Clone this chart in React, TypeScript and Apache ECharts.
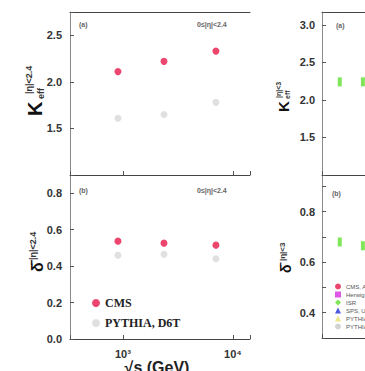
import React, { useEffect, useRef } from "react";
import * as echarts from "echarts";

// ---- data ----
const energies = [900, 2360, 7000]; // sqrt(s) in GeV
const cmsK = [2.11, 2.22, 2.33];
const pythiaK = [1.61, 1.65, 1.78];
const cmsDelta = [0.537, 0.526, 0.515];
const pythiaDelta = [0.46, 0.465, 0.44];

const isrEnergies = [31, 63];
const isrK = [2.24, 2.24];
const isrDelta = [0.68, 0.665];

const leftKTicks = [1.5, 2.0, 2.5];
const leftDeltaTicks = [0.0, 0.2, 0.4, 0.6, 0.8];
const rightKTicks = [1.5, 2.0, 2.5, 3.0];
const rightDeltaTicks = [0.4, 0.6, 0.8];
const xTickValues = [1000, 10000];
const xTickLabels = ["10³", "10⁴"];

const leftLegend = ["CMS", "PYTHIA, D6T"];
const rightLegend = ["CMS, ALICE", "Herwig", "ISR", "SPS, UA5", "PYTHIA, Z2", "PYTHIA 8"];
const rightLegendColors = ["#e8184a", "#d42ee0", "#5fe030", "#2230d8", "#e8e070", "#c8c8c8"];
const rightLegendSymbols = ["circle", "rect", "diamond", "triangle", "triangle", "circle"];

const RED = "#e8184a";
const GREY = "#d8d8d8";
const AXIS = "#555";
const LABEL_FONT = "Liberation Sans";

function yFmt(ticks: number[]) {
  return (v: number) => (ticks.some((t) => Math.abs(t - v) < 1e-6) ? v.toFixed(1) : "");
}
function xFmt(v: number) {
  const i = xTickValues.findIndex((t) => Math.abs(t - v) / t < 1e-6);
  return i >= 0 ? xTickLabels[i] : "";
}

function yAxis(grid: number, min: number, max: number, interval: number, ticks: number[], margin: number) {
  return {
    type: "value",
    gridIndex: grid,
    min,
    max,
    interval,
    splitLine: { show: false },
    axisLine: { show: true, lineStyle: { color: "#8a8a8a", width: 1 } },
    axisTick: { show: true, inside: true, length: 4, lineStyle: { color: AXIS } },
    axisLabel: {
      formatter: yFmt(ticks),
      margin,
      color: "#333",
      fontFamily: LABEL_FONT,
      fontWeight: "bold",
      fontSize: 11,
    },
  };
}

function xAxis(grid: number, min: number, max: number, showLabel: boolean, position = "bottom", ticks = true) {
  return {
    type: "log",
    gridIndex: grid,
    position,
    min,
    max,
    logBase: 10,
    splitLine: { show: false },
    axisLine: { show: true, onZero: false, lineStyle: { color: "#444", width: 1 } },
    axisTick: { show: ticks, inside: true, length: 4, lineStyle: { color: AXIS } },
    axisLabel: {
      show: showLabel,
      formatter: xFmt,
      margin: 9,
      color: "#333",
      fontFamily: LABEL_FONT,
      fontWeight: "bold",
      fontSize: 11,
    },
  };
}

const pts = (xs: number[], ys: number[]) => xs.map((x, i) => [x, ys[i]]);

function titleGroup(x: number, y: number, main: string, mainSize: number, sub: string, sup: string, subSize: number, subX: number, supX: number) {
  const children: any[] = [
    {
      type: "text",
      x: 0,
      y: 0,
      style: { text: main, font: `bold ${mainSize}px "Liberation Sans"`, fill: "#111", textAlign: "left", textVerticalAlign: "middle" },
    },
    {
      type: "text",
      x: supX,
      y: -mainSize * 0.28,
      style: { text: sup, font: `bold ${subSize}px "Liberation Sans"`, fill: "#333", textAlign: "left", textVerticalAlign: "middle" },
    },
  ];
  if (sub) {
    children.push({
      type: "text",
      x: subX,
      y: mainSize * 0.3,
      style: { text: sub, font: `bold ${subSize}px "Liberation Sans"`, fill: "#333", textAlign: "left", textVerticalAlign: "middle" },
    });
  }
  return { type: "group", x, y, rotation: Math.PI / 2, children };
}

function smallText(x: number, y: number, text: string, size = 7) {
  return {
    type: "text",
    x,
    y,
    style: { text, font: `bold ${size}px "Liberation Sans"`, fill: "#666", textAlign: "left", textVerticalAlign: "middle" },
  };
}

export default function App() {
  const ref = useRef<HTMLDivElement>(null);

  useEffect(() => {
    document.body.style.margin = "0";
    if (!ref.current) return;
    const chart = echarts.init(ref.current, undefined, { renderer: "svg" });

    const option: any = {
      animation: false,
      backgroundColor: "#ffffff",
      grid: [
        { left: 70, top: 12, width: 180, height: 163, outerBoundsMode: "none", containLabel: false },
        { left: 70, top: 175, width: 180, height: 164, outerBoundsMode: "none", containLabel: false },
        { left: 322, top: 12, width: 250, height: 163, outerBoundsMode: "none", containLabel: false },
        { left: 322, top: 175, width: 250, height: 163, outerBoundsMode: "none", containLabel: false },
      ],
      xAxis: [
        xAxis(0, 330, 14290, false),
        xAxis(1, 330, 14290, true),
        xAxis(2, 18, 38000, false),
        xAxis(3, 18, 38000, false),
        xAxis(0, 330, 14290, false, "top", false),
        xAxis(2, 18, 38000, false, "top", false),
      ],
      yAxis: [
        yAxis(0, 1.0, 2.75, 0.5, leftKTicks, 8),
        yAxis(1, 0, 0.9, 0.2, leftDeltaTicks, 8),
        yAxis(2, 1.0, 3.17, 0.5, rightKTicks, 7),
        yAxis(3, 0.3, 0.945, 0.1, rightDeltaTicks, 7),
      ],
      legend: [
        {
          left: 87,
          top: 291,
          orient: "vertical",
          itemWidth: 8,
          itemHeight: 8,
          itemGap: 6,
          selectedMode: false,
          data: leftLegend.map((n) => ({ name: n, icon: "circle" })),
          textStyle: { fontFamily: "Liberation Serif", fontWeight: "bold", fontSize: 12, color: "#222", lineHeight: 14 },
        },
        {
          left: 330,
          top: 278,
          orient: "vertical",
          itemWidth: 6,
          itemHeight: 6,
          itemGap: 1,
          itemTextGap: 4,
          selectedMode: false,
          data: rightLegend.map((n, i) => ({ name: n, icon: rightLegendSymbols[i] })),
          textStyle: { fontFamily: LABEL_FONT, fontSize: 6, color: "#555", lineHeight: 7 },
        },
      ],
      series: [
        {
          name: "PYTHIA, D6T",
          type: "scatter",
          xAxisIndex: 0,
          yAxisIndex: 0,
          symbol: "circle",
          symbolSize: 7,
          itemStyle: { color: GREY },
          data: pts(energies, pythiaK),
        },
        {
          name: "CMS",
          type: "scatter",
          xAxisIndex: 0,
          yAxisIndex: 0,
          symbol: "circle",
          symbolSize: 7,
          itemStyle: { color: RED },
          data: pts(energies, cmsK),
        },
        {
          name: "PYTHIA, D6T",
          type: "scatter",
          xAxisIndex: 1,
          yAxisIndex: 1,
          symbol: "circle",
          symbolSize: 7,
          itemStyle: { color: GREY },
          data: pts(energies, pythiaDelta),
        },
        {
          name: "CMS",
          type: "scatter",
          xAxisIndex: 1,
          yAxisIndex: 1,
          symbol: "circle",
          symbolSize: 7,
          itemStyle: { color: RED },
          data: pts(energies, cmsDelta),
        },
        ...rightLegend.map((n, i) => ({
          name: n,
          type: "scatter",
          xAxisIndex: 2,
          yAxisIndex: 2,
          symbol: n === "ISR" ? "rect" : rightLegendSymbols[i],
          symbolSize: n === "ISR" ? [4, 9] : 6,
          itemStyle: { color: rightLegendColors[i] },
          data: n === "ISR" ? pts(isrEnergies, isrK) : [],
        })),
        {
          name: "ISR",
          type: "scatter",
          xAxisIndex: 3,
          yAxisIndex: 3,
          symbol: "rect",
          symbolSize: [4, 9],
          itemStyle: { color: rightLegendColors[2] },
          data: pts(isrEnergies, isrDelta),
        },
      ],
      graphic: [
        titleGroup(35, 116, "K", 20, "eff", "|η|<2.4", 9, 17, 22),
        titleGroup(37, 272, "δ̄", 16, "", "|η|<2.4", 9, 0, 12),
        titleGroup(283, 112, "K", 15, "eff", "|η|<3", 7, 13, 14),
        titleGroup(286, 273, "δ̄", 14, "", "|η|<3", 8, 0, 12),
        smallText(79, 24, "(a)"),
        smallText(79, 190, "(b)"),
        smallText(336, 25, "(a)"),
        smallText(332, 193, "(b)"),
        smallText(197, 24, "0≤|η|<2.4", 7),
        smallText(197, 190, "0≤|η|<2.4", 7),
        {
          type: "text",
          x: 157,
          y: 359,
          style: {
            text: "√s (GeV)",
            font: 'bold 16px "Liberation Sans"',
            fill: "#222",
            textAlign: "center",
            textVerticalAlign: "top",
          },
        },
      ],
    };

    chart.setOption(option);
    return () => chart.dispose();
  }, []);

  return <div ref={ref} style={{ width: 365, height: 371 }} />;
}
